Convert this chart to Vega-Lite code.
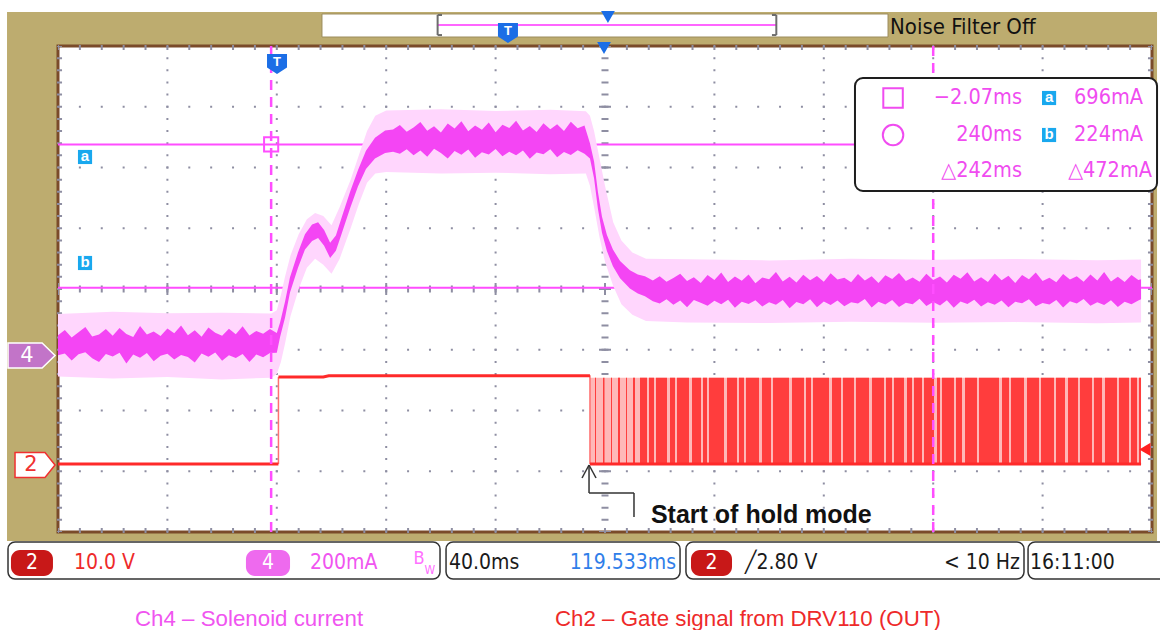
{
"$schema":"https://vega.github.io/schema/vega-lite/v6.json",
"width":1094,"height":486,
"autosize":{"type":"none"},
"padding":{"left":58,"top":46,"right":8,"bottom":98},
"background":"#ffffff",
"config":{"view":{"stroke":null},"font":"Liberation Sans"},
"resolve":{"scale":{"x":"independent","y":"independent"}},
"layer":[
{"layer":[
 {"data":{"values":[{"x":-0.466,"x2":10.046,"y":-0.148,"y2":8.56}]},"mark":{"type":"rect","fill":"#bdac6f"},
  "encoding":{"x":{"field":"x","type":"quantitative","scale":{"domain":[0,10]},"axis":null},"x2":{"field":"x2"},"y":{"field":"y","type":"quantitative","scale":{"domain":[0,8]},"axis":null},"y2":{"field":"y2"}}},
 {"data":{"values":[{"x":2.413,"x2":7.587,"y":8.148,"y2":8.527}]},"mark":{"type":"rect","fill":"#ffffff","stroke":"#9c8c5c","strokeWidth":1},
  "encoding":{"x":{"field":"x","type":"quantitative","scale":{"domain":[0,10]},"axis":null},"x2":{"field":"x2"},"y":{"field":"y","type":"quantitative","scale":{"domain":[0,8]},"axis":null},"y2":{"field":"y2"}}},
 {"data":{"values":[{"x":0,"x2":10,"y":0,"y2":8}]},"mark":{"type":"rect","fill":"#ffffff","stroke":"#7a4b2a","strokeWidth":3},
  "encoding":{"x":{"field":"x","type":"quantitative","scale":{"domain":[0,10]},"axis":null},"x2":{"field":"x2"},"y":{"field":"y","type":"quantitative","scale":{"domain":[0,8]},"axis":null},"y2":{"field":"y2"}}},
 {"data":{"values":[{"x":1},{"x":2},{"x":3},{"x":4},{"x":6},{"x":7},{"x":8},{"x":9}]},"mark":{"type":"rule","color":"#8e8ea2","strokeWidth":2,"strokeDash":[2,10.15],"strokeDashOffset":1},
  "encoding":{"x":{"field":"x","type":"quantitative","scale":{"domain":[0,10]},"axis":null},"y":{"datum":0,"type":"quantitative","scale":{"domain":[0,8]},"axis":null},"y2":{"datum":8}}},
 {"data":{"values":[{"y":1},{"y":2},{"y":3},{"y":5},{"y":6},{"y":7}]},"mark":{"type":"rule","color":"#8e8ea2","strokeWidth":2,"strokeDash":[2,19.88],"strokeDashOffset":1},
  "encoding":{"y":{"field":"y","type":"quantitative","scale":{"domain":[0,8]},"axis":null},"x":{"datum":0,"type":"quantitative","scale":{"domain":[0,10]},"axis":null},"x2":{"datum":10}}},
 {"data":{"values":[{"x":5}]},"mark":{"type":"rule","color":"#8e8ea2","strokeWidth":7,"strokeDash":[2,10.15],"strokeDashOffset":1},
  "encoding":{"x":{"field":"x","type":"quantitative","scale":{"domain":[0,10]},"axis":null},"y":{"datum":0,"type":"quantitative","scale":{"domain":[0,8]},"axis":null},"y2":{"datum":8}}},
 {"data":{"values":[{"x":5}]},"mark":{"type":"rule","color":"#8e8ea2","strokeWidth":12,"strokeDash":[2,58.75],"strokeDashOffset":1},
  "encoding":{"x":{"field":"x","type":"quantitative","scale":{"domain":[0,10]},"axis":null},"y":{"datum":0,"type":"quantitative","scale":{"domain":[0,8]},"axis":null},"y2":{"datum":8}}},
 {"data":{"values":[{"y":4}]},"mark":{"type":"rule","color":"#8e8ea2","strokeWidth":7,"strokeDash":[2,19.88],"strokeDashOffset":1},
  "encoding":{"y":{"field":"y","type":"quantitative","scale":{"domain":[0,8]},"axis":null},"x":{"datum":0,"type":"quantitative","scale":{"domain":[0,10]},"axis":null},"x2":{"datum":10}}},
 {"data":{"values":[{"y":4}]},"mark":{"type":"rule","color":"#8e8ea2","strokeWidth":12,"strokeDash":[2,107.4],"strokeDashOffset":1},
  "encoding":{"y":{"field":"y","type":"quantitative","scale":{"domain":[0,8]},"axis":null},"x":{"datum":0,"type":"quantitative","scale":{"domain":[0,10]},"axis":null},"x2":{"datum":10}}},
 {"data":{"values":[{"y":7.975},{"y":0.025}]},"mark":{"type":"rule","color":"#8e8ea2","strokeWidth":5,"strokeDash":[2,19.88],"strokeDashOffset":1},
  "encoding":{"y":{"field":"y","type":"quantitative","scale":{"domain":[0,8]},"axis":null},"x":{"datum":0,"type":"quantitative","scale":{"domain":[0,10]},"axis":null},"x2":{"datum":10}}},
 {"data":{"values":[{"x":0.014},{"x":9.986}]},"mark":{"type":"rule","color":"#8e8ea2","strokeWidth":5,"strokeDash":[2,10.15],"strokeDashOffset":1},
  "encoding":{"x":{"field":"x","type":"quantitative","scale":{"domain":[0,10]},"axis":null},"y":{"datum":0,"type":"quantitative","scale":{"domain":[0,8]},"axis":null},"y2":{"datum":8}}}
]},
{"data":{"values":[{"cursor":"a","mA":696},{"cursor":"b","mA":224}]},"mark":{"type":"rule","color":"#ff4dff","strokeWidth":2},
 "encoding":{"y":{"field":"mA","type":"quantitative","scale":{"domain":[-580,1020]},"axis":null}}},
{"layer":[
 {"data":{"values":[
  {"t":-80,"lo":-68,"hi":138},{"t":-60,"lo":-75,"hi":145},{"t":-40,"lo":-70,"hi":140},{"t":-20,"lo":-78,"hi":142},{"t":-2,"lo":-72,"hi":139},
  {"t":0,"lo":-60,"hi":150},{"t":1.5,"lo":-20,"hi":200},{"t":3,"lo":40,"hi":260},{"t":5,"lo":130,"hi":330},{"t":8,"lo":220,"hi":400},
  {"t":11,"lo":290,"hi":450},{"t":14,"lo":320,"hi":470},{"t":17,"lo":300,"hi":460},{"t":20,"lo":270,"hi":430},{"t":23,"lo":320,"hi":490},
  {"t":27,"lo":420,"hi":580},{"t":30,"lo":500,"hi":660},{"t":33,"lo":570,"hi":740},{"t":36,"lo":600,"hi":790},{"t":40,"lo":605,"hi":808},
  {"t":60,"lo":600,"hi":812},{"t":80,"lo":603,"hi":806},{"t":100,"lo":598,"hi":810},{"t":113,"lo":600,"hi":805},{"t":114.5,"lo":560,"hi":790},
  {"t":116,"lo":490,"hi":740},{"t":118,"lo":390,"hi":650},{"t":120,"lo":310,"hi":560},{"t":123,"lo":230,"hi":440},{"t":126,"lo":170,"hi":380},
  {"t":130,"lo":135,"hi":340},{"t":135,"lo":115,"hi":320},{"t":150,"lo":110,"hi":318},{"t":180,"lo":108,"hi":314},{"t":210,"lo":112,"hi":320},
  {"t":240,"lo":109,"hi":316},{"t":270,"lo":111,"hi":319},{"t":300,"lo":107,"hi":315},{"t":316,"lo":110,"hi":317}]},
  "mark":{"type":"area","color":"#ffd6fd"},
  "encoding":{"x":{"field":"t","type":"quantitative","scale":{"domain":[-80,320]},"axis":null},"y":{"field":"hi","type":"quantitative","scale":{"domain":[-580,1020]},"axis":null},"y2":{"field":"lo"}}},
 {"data":{"values":[
  {"t":-80,"lo":2,"hi":68},{"t":-77.5,"lo":8,"hi":85},{"t":-75,"lo":-15,"hi":60},{"t":-72.5,"lo":5,"hi":78},{"t":-70,"lo":12,"hi":95},
  {"t":-67.5,"lo":-8,"hi":64},{"t":-65,"lo":-20,"hi":70},{"t":-62.5,"lo":6,"hi":88},{"t":-60,"lo":-2,"hi":66},{"t":-57.5,"lo":10,"hi":92},
  {"t":-55,"lo":-25,"hi":72},{"t":-52.5,"lo":4,"hi":62},{"t":-50,"lo":-6,"hi":98},{"t":-47.5,"lo":9,"hi":70},{"t":-45,"lo":-18,"hi":80},
  {"t":-42.5,"lo":0,"hi":65},{"t":-40,"lo":7,"hi":90},{"t":-37.5,"lo":-12,"hi":74},{"t":-35,"lo":3,"hi":100},{"t":-32.5,"lo":-4,"hi":68},
  {"t":-30,"lo":-22,"hi":84},{"t":-27.5,"lo":8,"hi":63},{"t":-25,"lo":-3,"hi":93},{"t":-22.5,"lo":11,"hi":76},{"t":-20,"lo":-16,"hi":66},
  {"t":-17.5,"lo":2,"hi":89},{"t":-15,"lo":-7,"hi":71},{"t":-12.5,"lo":6,"hi":97},{"t":-10,"lo":-20,"hi":67},{"t":-7.5,"lo":4,"hi":82},
  {"t":-5,"lo":-5,"hi":73},{"t":-2.5,"lo":9,"hi":88},{"t":0,"lo":10,"hi":75},
  {"t":1.2,"lo":62,"hi":110},{"t":3,"lo":125,"hi":178},{"t":4.8,"lo":208,"hi":258},{"t":7.75,"lo":290,"hi":340},{"t":10.3,"lo":350,"hi":400},
  {"t":12.9,"lo":378,"hi":432},{"t":15.1,"lo":388,"hi":440},{"t":17.3,"lo":362,"hi":414},{"t":19.5,"lo":322,"hi":372},{"t":21.6,"lo":346,"hi":396},
  {"t":23.8,"lo":404,"hi":458},{"t":26.8,"lo":486,"hi":540},{"t":29.7,"lo":558,"hi":612},{"t":32.6,"lo":615,"hi":675},{"t":35.9,"lo":650,"hi":718},
  {"t":39.6,"lo":668,"hi":742},
  {"t":42.5,"lo":672,"hi":745},{"t":45,"lo":665,"hi":760},{"t":47.5,"lo":680,"hi":738},{"t":50,"lo":660,"hi":752},{"t":52.5,"lo":676,"hi":770},
  {"t":55,"lo":655,"hi":741},{"t":57.5,"lo":682,"hi":756},{"t":60,"lo":668,"hi":735},{"t":62.5,"lo":650,"hi":765},{"t":65,"lo":674,"hi":748},
  {"t":67.5,"lo":662,"hi":772},{"t":70,"lo":679,"hi":739},{"t":72.5,"lo":652,"hi":758},{"t":75,"lo":670,"hi":744},{"t":77.5,"lo":663,"hi":768},
  {"t":80,"lo":681,"hi":736},{"t":82.5,"lo":657,"hi":761},{"t":85,"lo":672,"hi":750},{"t":87.5,"lo":660,"hi":774},{"t":90,"lo":676,"hi":742},
  {"t":92.5,"lo":649,"hi":757},{"t":95,"lo":669,"hi":737},{"t":97.5,"lo":664,"hi":766},{"t":100,"lo":680,"hi":746},{"t":102.5,"lo":654,"hi":762},
  {"t":105,"lo":671,"hi":740},{"t":107.5,"lo":661,"hi":771},{"t":110,"lo":677,"hi":749},{"t":112.5,"lo":665,"hi":758},
  {"t":114.5,"lo":650,"hi":700},{"t":116,"lo":585,"hi":640},{"t":117.4,"lo":485,"hi":540},{"t":118.9,"lo":405,"hi":458},{"t":120.7,"lo":345,"hi":398},
  {"t":122.9,"lo":295,"hi":350},{"t":125.5,"lo":255,"hi":312},{"t":129.1,"lo":222,"hi":282},{"t":132,"lo":205,"hi":268},{"t":134.6,"lo":196,"hi":262},
  {"t":137.5,"lo":180,"hi":248},{"t":140,"lo":172,"hi":262},{"t":142.5,"lo":186,"hi":244},{"t":145,"lo":168,"hi":256},{"t":147.5,"lo":182,"hi":270},
  {"t":150,"lo":160,"hi":246},{"t":152.5,"lo":184,"hi":259},{"t":155,"lo":175,"hi":240},{"t":157.5,"lo":165,"hi":266},{"t":160,"lo":181,"hi":250},
  {"t":162.5,"lo":170,"hi":274},{"t":165,"lo":185,"hi":243},{"t":167.5,"lo":158,"hi":261},{"t":170,"lo":178,"hi":247},{"t":172.5,"lo":171,"hi":268},
  {"t":175,"lo":183,"hi":239},{"t":177.5,"lo":162,"hi":258},{"t":180,"lo":176,"hi":252},{"t":182.5,"lo":168,"hi":276},{"t":185,"lo":184,"hi":245},
  {"t":187.5,"lo":157,"hi":260},{"t":190,"lo":177,"hi":241},{"t":192.5,"lo":170,"hi":267},{"t":195,"lo":186,"hi":249},{"t":197.5,"lo":160,"hi":263},
  {"t":200,"lo":179,"hi":244},{"t":202.5,"lo":167,"hi":272},{"t":205,"lo":182,"hi":251},{"t":207.5,"lo":163,"hi":257},{"t":210,"lo":176,"hi":242},
  {"t":212.5,"lo":172,"hi":269},{"t":215,"lo":187,"hi":248},{"t":217.5,"lo":159,"hi":262},{"t":220,"lo":178,"hi":240},{"t":222.5,"lo":169,"hi":265},
  {"t":225,"lo":184,"hi":253},{"t":227.5,"lo":161,"hi":273},{"t":230,"lo":175,"hi":246},{"t":232.5,"lo":170,"hi":258},{"t":235,"lo":188,"hi":244},
  {"t":237.5,"lo":164,"hi":270},{"t":240,"lo":177,"hi":250},{"t":242.5,"lo":166,"hi":261},{"t":245,"lo":183,"hi":241},{"t":247.5,"lo":158,"hi":267},
  {"t":250,"lo":179,"hi":254},{"t":252.5,"lo":171,"hi":275},{"t":255,"lo":185,"hi":245},{"t":257.5,"lo":162,"hi":259},{"t":260,"lo":176,"hi":243},
  {"t":262.5,"lo":168,"hi":271},{"t":265,"lo":182,"hi":249},{"t":267.5,"lo":160,"hi":264},{"t":270,"lo":178,"hi":240},{"t":272.5,"lo":173,"hi":266},
  {"t":275,"lo":186,"hi":252},{"t":277.5,"lo":163,"hi":274},{"t":280,"lo":174,"hi":246},{"t":282.5,"lo":169,"hi":257},{"t":285,"lo":184,"hi":242},
  {"t":287.5,"lo":159,"hi":269},{"t":290,"lo":180,"hi":251},{"t":292.5,"lo":172,"hi":262},{"t":295,"lo":187,"hi":244},{"t":297.5,"lo":165,"hi":268},
  {"t":300,"lo":176,"hi":248},{"t":302.5,"lo":167,"hi":276},{"t":305,"lo":183,"hi":245},{"t":307.5,"lo":161,"hi":260},{"t":310,"lo":178,"hi":243},
  {"t":312.5,"lo":170,"hi":266},{"t":315,"lo":182,"hi":250},{"t":316,"lo":186,"hi":252}]},
  "mark":{"type":"area","color":"#f445f4"},
  "encoding":{"x":{"field":"t","type":"quantitative","scale":{"domain":[-80,320]},"axis":null},"y":{"field":"hi","type":"quantitative","scale":{"domain":[-580,1020]},"axis":null},"y2":{"field":"lo"}}}
]},
{"layer":[
 {"data":{"values":[{"t1":114.5,"t2":316}]},"mark":{"type":"rect","fill":"#ffb8b8"},
  "encoding":{"x":{"field":"t1","type":"quantitative","scale":{"domain":[-80,320]},"axis":null},"x2":{"field":"t2"},"y":{"datum":0,"type":"quantitative","scale":{"domain":[-11.2,68.8]},"axis":null},"y2":{"datum":14.2}}},
 {"data":{"values":[
  {"t1":116.34,"t2":116.71},{"t1":119.27,"t2":119.82},{"t1":122.19,"t2":122.56},{"t1":124.75,"t2":125.48},{"t1":127.68,"t2":128.04},{"t1":130.24,"t2":130.97},
  {"t1":132.8,"t2":135.36},{"t1":136.09,"t2":137.92},{"t1":138.65,"t2":142.67},{"t1":143.77,"t2":145.59},{"t1":146.33,"t2":150.71},{"t1":151.81,"t2":155.1},
  {"t1":155.83,"t2":157.29},{"t1":158.02,"t2":163.51},{"t1":164.61,"t2":168.26},{"t1":168.99,"t2":170.82},{"t1":171.55,"t2":176.31},{"t1":177.4,"t2":180.69},
  {"t1":181.43,"t2":187.28},{"t1":188.37,"t2":192.76},{"t1":193.49,"t2":195.32},{"t1":196.05,"t2":201.9},{"t1":203,"t2":206.29},{"t1":207.02,"t2":211.04},
  {"t1":211.77,"t2":216.53},{"t1":217.62,"t2":222.01},{"t1":222.74,"t2":224.94},{"t1":225.67,"t2":229.32},{"t1":230.42,"t2":232.25},{"t1":232.98,"t2":235.9},
  {"t1":236.64,"t2":240.29},{"t1":241.39,"t2":242.49},{"t1":243.22,"t2":247.6},{"t1":248.34,"t2":250.53},{"t1":251.63,"t2":256.01},{"t1":256.75,"t2":264.06},
  {"t1":265.16,"t2":267.72},{"t1":268.45,"t2":273.2},{"t1":274.3,"t2":278.68},{"t1":279.41,"t2":284.17},{"t1":284.9,"t2":288.19},{"t1":289.29,"t2":292.94},
  {"t1":293.67,"t2":298.06},{"t1":298.79,"t2":301.72},{"t1":302.81,"t2":307.2},{"t1":307.93,"t2":311.59},{"t1":312.32,"t2":314.51},{"t1":315.24,"t2":315.98}]},
  "mark":{"type":"rect","fill":"#ff3d3d"},
  "encoding":{"x":{"field":"t1","type":"quantitative","scale":{"domain":[-80,320]},"axis":null},"x2":{"field":"t2"},"y":{"datum":0,"type":"quantitative","scale":{"domain":[-11.2,68.8]},"axis":null},"y2":{"datum":14.2}}},
 {"data":{"values":[{"t":0.6,"a":0,"b":14.3},{"t":114.5,"a":0,"b":14.6}]},"mark":{"type":"rule","color":"#ff7070","strokeWidth":1.5},
  "encoding":{"x":{"field":"t","type":"quantitative","scale":{"domain":[-80,320]},"axis":null},"y":{"field":"a","type":"quantitative","scale":{"domain":[-11.2,68.8]},"axis":null},"y2":{"field":"b"}}},
 {"data":{"values":[{"s":"a","t":-80,"v":0},{"s":"a","t":0.6,"v":0},{"s":"b","t":0.6,"v":14.3},{"s":"b","t":17,"v":14.3},{"s":"b","t":19,"v":14.5},{"s":"b","t":114.5,"v":14.5},{"s":"c","t":114.5,"v":0},{"s":"c","t":316,"v":0}]},
  "mark":{"type":"line","color":"#ff2a2a","strokeWidth":3},
  "encoding":{"x":{"field":"t","type":"quantitative","scale":{"domain":[-80,320]},"axis":null},"y":{"field":"v","type":"quantitative","scale":{"domain":[-11.2,68.8]},"axis":null},"detail":{"field":"s"}}},
 {"data":{"values":[{"t":317.4,"v":2.4}]},"mark":{"type":"point","shape":"triangle-left","filled":true,"fill":"#ff2020","size":170,"opacity":1},
  "encoding":{"x":{"field":"t","type":"quantitative","scale":{"domain":[-80,320]},"axis":null},"y":{"field":"v","type":"quantitative","scale":{"domain":[-11.2,68.8]},"axis":null}}}
]},
{"layer":[
 {"data":{"values":[{"ms":-2.07},{"ms":240}]},"mark":{"type":"rule","color":"#ff4dff","strokeWidth":2.5,"strokeDash":[10,7]},
  "encoding":{"x":{"field":"ms","type":"quantitative","scale":{"domain":[-80,320]},"axis":null}}},
 {"data":{"values":[{"ms":-2.07,"mA":696}]},"mark":{"type":"point","shape":"square","filled":false,"stroke":"#ff4dff","strokeWidth":2,"size":200,"opacity":1},
  "encoding":{"x":{"field":"ms","type":"quantitative","scale":{"domain":[-80,320]},"axis":null},"y":{"field":"mA","type":"quantitative","scale":{"domain":[-580,1020]},"axis":null}}}
]},
{"layer":[
 {"data":{"values":[{"x":7.285,"x2":10.046,"y":5.613,"y2":7.473}]},"mark":{"type":"rect","fill":"#ffffff","stroke":"#1e1e1e","strokeWidth":2,"cornerRadius":8},
  "encoding":{"x":{"field":"x","type":"quantitative","scale":{"domain":[0,10]},"axis":null},"x2":{"field":"x2"},"y":{"field":"y","type":"quantitative","scale":{"domain":[0,8]},"axis":null},"y2":{"field":"y2"}}},
 {"data":{"values":[{"x":-0.457,"x2":3.492,"y":-0.774,"y2":-0.165},{"x":3.547,"x2":5.686,"y":-0.774,"y2":-0.165},{"x":5.74,"x2":8.83,"y":-0.774,"y2":-0.165},{"x":8.867,"x2":10.21,"y":-0.774,"y2":-0.165}]},
  "mark":{"type":"rect","fill":"#ffffff","stroke":"#333333","strokeWidth":1.5,"cornerRadius":7},
  "encoding":{"x":{"field":"x","type":"quantitative","scale":{"domain":[0,10]},"axis":null},"x2":{"field":"x2"},"y":{"field":"y","type":"quantitative","scale":{"domain":[0,8]},"axis":null},"y2":{"field":"y2"}}},
 {"data":{"values":[{"x":-0.43,"x2":-0.046,"y":-0.724,"y2":-0.296},{"x":5.786,"x2":6.161,"y":-0.724,"y2":-0.296}]},
  "mark":{"type":"rect","fill":"#c81818","cornerRadius":9},
  "encoding":{"x":{"field":"x","type":"quantitative","scale":{"domain":[0,10]},"axis":null},"x2":{"field":"x2"},"y":{"field":"y","type":"quantitative","scale":{"domain":[0,8]},"axis":null},"y2":{"field":"y2"}}},
 {"data":{"values":[{"x":1.718,"x2":2.121,"y":-0.724,"y2":-0.296}]},
  "mark":{"type":"rect","fill":"#ee6aee","cornerRadius":9},
  "encoding":{"x":{"field":"x","type":"quantitative","scale":{"domain":[0,10]},"axis":null},"x2":{"field":"x2"},"y":{"field":"y","type":"quantitative","scale":{"domain":[0,8]},"axis":null},"y2":{"field":"y2"}}},
 {"data":{"values":[{"x":3.464,"x2":6.572,"y":8.346,"y2":8.346}]},"mark":{"type":"rule","color":"#ff66ff","strokeWidth":2},
  "encoding":{"x":{"field":"x","type":"quantitative","scale":{"domain":[0,10]},"axis":null},"x2":{"field":"x2"},"y":{"field":"y","type":"quantitative","scale":{"domain":[0,8]},"axis":null},"y2":{"field":"y2"}}},
 {"data":{"values":[{"x":3.47,"x2":3.47,"y":8.18,"y2":8.51},{"x":3.47,"x2":3.51,"y":8.51,"y2":8.51},{"x":3.47,"x2":3.51,"y":8.18,"y2":8.18},
   {"x":6.566,"x2":6.566,"y":8.18,"y2":8.51},{"x":6.526,"x2":6.566,"y":8.51,"y2":8.51},{"x":6.526,"x2":6.566,"y":8.18,"y2":8.18}]},
  "mark":{"type":"rule","color":"#6d6d6d","strokeWidth":2},
  "encoding":{"x":{"field":"x","type":"quantitative","scale":{"domain":[0,10]},"axis":null},"x2":{"field":"x2"},"y":{"field":"y","type":"quantitative","scale":{"domain":[0,8]},"axis":null},"y2":{"field":"y2"}}},
 {"data":{"values":[{"x":4.991,"y":7.967},{"x":5.027,"y":8.477}]},"mark":{"type":"point","shape":"triangle-down","filled":true,"fill":"#1b6ee6","size":190,"opacity":1},
  "encoding":{"x":{"field":"x","type":"quantitative","scale":{"domain":[0,10]},"axis":null},"y":{"field":"y","type":"quantitative","scale":{"domain":[0,8]},"axis":null}}},
 {"data":{"values":[{"x":2.002,"y":7.704},{"x":4.113,"y":8.214}]},"mark":{"type":"point","shape":"M-1,-1L1,-1L1,0.35L0,1L-1,0.35Z","filled":true,"fill":"#1b6ee6","size":400,"opacity":1},
  "encoding":{"x":{"field":"x","type":"quantitative","scale":{"domain":[0,10]},"axis":null},"y":{"field":"y","type":"quantitative","scale":{"domain":[0,8]},"axis":null}}},
 {"data":{"values":[{"x":2.002,"y":7.704,"text":"T"},{"x":4.113,"y":8.214,"text":"T"}]},"mark":{"type":"text","color":"#ffffff","fontSize":13,"fontWeight":"bold","baseline":"middle","align":"center","dy":-2},
  "encoding":{"x":{"field":"x","type":"quantitative","scale":{"domain":[0,10]},"axis":null},"y":{"field":"y","type":"quantitative","scale":{"domain":[0,8]},"axis":null},"text":{"field":"text"}}},
 {"data":{"values":[{"x":0.247,"y":6.173},{"x":0.247,"y":4.428},{"x":9.059,"y":7.144},{"x":9.059,"y":6.535}]},"mark":{"type":"point","shape":"square","filled":true,"fill":"#19a8ee","size":200,"opacity":1},
  "encoding":{"x":{"field":"x","type":"quantitative","scale":{"domain":[0,10]},"axis":null},"y":{"field":"y","type":"quantitative","scale":{"domain":[0,8]},"axis":null}}},
 {"data":{"values":[{"x":0.247,"y":6.173,"text":"a"},{"x":0.247,"y":4.428,"text":"b"},{"x":9.059,"y":7.144,"text":"a"},{"x":9.059,"y":6.535,"text":"b"}]},
  "mark":{"type":"text","color":"#ffffff","fontSize":15,"fontWeight":"bold","baseline":"middle","align":"center","dy":-1},
  "encoding":{"x":{"field":"x","type":"quantitative","scale":{"domain":[0,10]},"axis":null},"y":{"field":"y","type":"quantitative","scale":{"domain":[0,8]},"axis":null},"text":{"field":"text"}}},
 {"data":{"values":[{"x":7.633,"y":7.144}]},"mark":{"type":"point","shape":"square","filled":false,"stroke":"#f04cf0","strokeWidth":2,"size":380,"opacity":1},
  "encoding":{"x":{"field":"x","type":"quantitative","scale":{"domain":[0,10]},"axis":null},"y":{"field":"y","type":"quantitative","scale":{"domain":[0,8]},"axis":null}}},
 {"data":{"values":[{"x":7.633,"y":6.535}]},"mark":{"type":"point","shape":"circle","filled":false,"stroke":"#f04cf0","strokeWidth":2,"size":420,"opacity":1},
  "encoding":{"x":{"field":"x","type":"quantitative","scale":{"domain":[0,10]},"axis":null},"y":{"field":"y","type":"quantitative","scale":{"domain":[0,8]},"axis":null}}},
 {"data":{"values":[{"x":8.812,"y":7.144,"text":"−2.07ms"},{"x":8.812,"y":6.535,"text":"240ms"},{"x":8.812,"y":5.942,"text":"△242ms"},
   {"x":9.918,"y":7.144,"text":"696mA"},{"x":9.918,"y":6.535,"text":"224mA"},{"x":10.0,"y":5.942,"text":"△472mA"}]},
  "mark":{"type":"text","color":"#f04cf0","font":"DejaVu Sans Condensed, sans-serif","fontSize":21.5,"baseline":"middle","align":"right"},
  "encoding":{"x":{"field":"x","type":"quantitative","scale":{"domain":[0,10]},"axis":null},"y":{"field":"y","type":"quantitative","scale":{"domain":[0,8]},"axis":null},"text":{"field":"text"}}},
 {"data":{"values":[{"x":0.146,"y":-0.51,"text":"10.0 V","ch":"CH2"},{"x":2.303,"y":-0.51,"text":"200mA","ch":"CH4"},{"x":3.574,"y":-0.51,"text":"40.0ms","ch":"Time"},
   {"x":6.28,"y":-0.51,"text":"╱2.80 V","ch":"Time"},{"x":8.885,"y":-0.51,"text":"16:11:00","ch":"Time"}]},
  "mark":{"type":"text","font":"DejaVu Sans Condensed, sans-serif","fontSize":21,"baseline":"middle","align":"left"},
  "encoding":{"x":{"field":"x","type":"quantitative","scale":{"domain":[0,10]},"axis":null},"y":{"field":"y","type":"quantitative","scale":{"domain":[0,8]},"axis":null},"text":{"field":"text"},
   "color":{"field":"ch","type":"nominal","scale":{"domain":["CH2","CH4","Time","Delay"],"range":["#ee2a2a","#f055f0","#1a1a1a","#2f7ee9"]},"legend":null}}},
 {"data":{"values":[{"x":5.649,"y":-0.51,"text":"119.533ms","ch":"Delay"},{"x":8.793,"y":-0.51,"text":"< 10 Hz","ch":"Time"}]},
  "mark":{"type":"text","font":"DejaVu Sans Condensed, sans-serif","fontSize":21,"baseline":"middle","align":"right"},
  "encoding":{"x":{"field":"x","type":"quantitative","scale":{"domain":[0,10]},"axis":null},"y":{"field":"y","type":"quantitative","scale":{"domain":[0,8]},"axis":null},"text":{"field":"text"},
   "color":{"field":"ch","type":"nominal","scale":{"domain":["CH2","CH4","Time","Delay"],"range":["#ee2a2a","#f055f0","#1a1a1a","#2f7ee9"]},"legend":null}}},
 {"data":{"values":[{"x":-0.238,"y":-0.51,"text":"2"},{"x":1.92,"y":-0.51,"text":"4"},{"x":5.974,"y":-0.51,"text":"2"}]},
  "mark":{"type":"text","color":"#ffffff","font":"DejaVu Sans Condensed, sans-serif","fontSize":21,"baseline":"middle","align":"center"},
  "encoding":{"x":{"field":"x","type":"quantitative","scale":{"domain":[0,10]},"axis":null},"y":{"field":"y","type":"quantitative","scale":{"domain":[0,8]},"axis":null},"text":{"field":"text"}}},
 {"data":{"values":[{"x":3.3,"y":-0.45,"text":"B"}]},"mark":{"type":"text","color":"#ff70ff","font":"DejaVu Sans Condensed, sans-serif","fontSize":18,"baseline":"middle","align":"center"},
  "encoding":{"x":{"field":"x","type":"quantitative","scale":{"domain":[0,10]},"axis":null},"y":{"field":"y","type":"quantitative","scale":{"domain":[0,8]},"axis":null},"text":{"field":"text"}}},
 {"data":{"values":[{"x":3.4,"y":-0.63,"text":"W"}]},"mark":{"type":"text","color":"#ff70ff","font":"DejaVu Sans Condensed, sans-serif","fontSize":12,"baseline":"middle","align":"center"},
  "encoding":{"x":{"field":"x","type":"quantitative","scale":{"domain":[0,10]},"axis":null},"y":{"field":"y","type":"quantitative","scale":{"domain":[0,8]},"axis":null},"text":{"field":"text"}}},
 {"data":{"values":[{"x":-0.242,"y":2.905}]},"mark":{"type":"point","shape":"M-1,-0.53L0.45,-0.53L1,0L0.45,0.53L-1,0.53Z","filled":true,"fill":"#c274c8","stroke":"#ffffff","strokeWidth":1.5,"size":2209,"opacity":1},
  "encoding":{"x":{"field":"x","type":"quantitative","scale":{"domain":[0,10]},"axis":null},"y":{"field":"y","type":"quantitative","scale":{"domain":[0,8]},"axis":null}}},
 {"data":{"values":[{"x":-0.21,"y":1.103}]},"mark":{"type":"point","shape":"M-1,-0.62L0.5,-0.62L1,0L0.5,0.62L-1,0.62Z","filled":true,"fill":"#ffffff","stroke":"#f03030","strokeWidth":1.5,"size":1600,"opacity":1},
  "encoding":{"x":{"field":"x","type":"quantitative","scale":{"domain":[0,10]},"axis":null},"y":{"field":"y","type":"quantitative","scale":{"domain":[0,8]},"axis":null}}},
 {"data":{"values":[{"x":-0.283,"y":2.905,"text":"4"}]},"mark":{"type":"text","color":"#ffffff","font":"DejaVu Sans","fontSize":21,"baseline":"middle","align":"center"},
  "encoding":{"x":{"field":"x","type":"quantitative","scale":{"domain":[0,10]},"axis":null},"y":{"field":"y","type":"quantitative","scale":{"domain":[0,8]},"axis":null},"text":{"field":"text"}}},
 {"data":{"values":[{"x":-0.247,"y":1.103,"text":"2"}]},"mark":{"type":"text","color":"#f03030","font":"DejaVu Sans","fontSize":21,"baseline":"middle","align":"center"},
  "encoding":{"x":{"field":"x","type":"quantitative","scale":{"domain":[0,10]},"axis":null},"y":{"field":"y","type":"quantitative","scale":{"domain":[0,8]},"axis":null},"text":{"field":"text"}}},
 {"data":{"values":[{"x":4.854,"x2":4.854,"y":1.103,"y2":0.642},{"x":4.854,"x2":5.265,"y":0.642,"y2":0.642},{"x":5.265,"x2":5.265,"y":0.642,"y2":0.247},
   {"x":4.854,"x2":4.79,"y":1.103,"y2":0.889},{"x":4.854,"x2":4.918,"y":1.103,"y2":0.889}]},
  "mark":{"type":"rule","color":"#333333","strokeWidth":1.5},
  "encoding":{"x":{"field":"x","type":"quantitative","scale":{"domain":[0,10]},"axis":null},"x2":{"field":"x2"},"y":{"field":"y","type":"quantitative","scale":{"domain":[0,8]},"axis":null},"y2":{"field":"y2"}}},
 {"data":{"values":[{"x":5.42,"y":0.28,"text":"Start of hold mode"}]},"mark":{"type":"text","color":"#111111","font":"Liberation Sans","fontSize":25,"fontWeight":"bold","baseline":"middle","align":"left"},
  "encoding":{"x":{"field":"x","type":"quantitative","scale":{"domain":[0,10]},"axis":null},"y":{"field":"y","type":"quantitative","scale":{"domain":[0,8]},"axis":null},"text":{"field":"text"}}},
 {"data":{"values":[{"x":7.605,"y":8.313,"text":"Noise Filter Off"}]},"mark":{"type":"text","color":"#111111","font":"DejaVu Sans Condensed, sans-serif","fontSize":22,"baseline":"middle","align":"left"},
  "encoding":{"x":{"field":"x","type":"quantitative","scale":{"domain":[0,10]},"axis":null},"y":{"field":"y","type":"quantitative","scale":{"domain":[0,8]},"axis":null},"text":{"field":"text"}}},
 {"data":{"values":[{"x":0.704,"y":-1.432,"text":"Ch4 – Solenoid current","ch":"CH4"},{"x":4.543,"y":-1.432,"text":"Ch2 – Gate signal from DRV110 (OUT)","ch":"CH2"}]},
  "mark":{"type":"text","font":"Liberation Sans","fontSize":22.3,"baseline":"middle","align":"left"},
  "encoding":{"x":{"field":"x","type":"quantitative","scale":{"domain":[0,10]},"axis":null},"y":{"field":"y","type":"quantitative","scale":{"domain":[0,8]},"axis":null},"text":{"field":"text"},
   "color":{"field":"ch","type":"nominal","scale":{"domain":["CH2","CH4","Time","Delay"],"range":["#ee2a2a","#f055f0","#1a1a1a","#2f7ee9"]},"legend":null}}}
]}
]
}
